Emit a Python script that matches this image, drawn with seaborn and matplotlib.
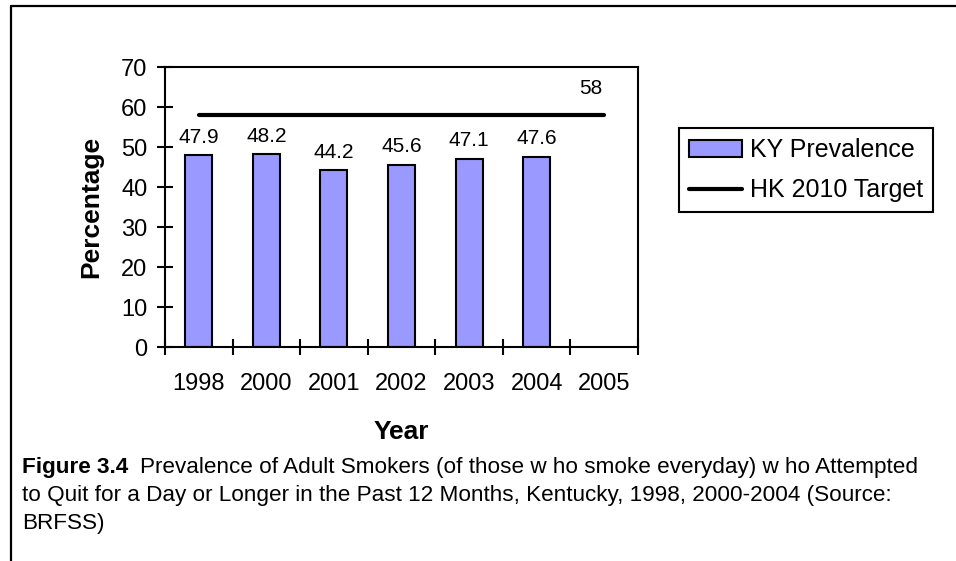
import numpy as np
import pandas as pd
import matplotlib.pyplot as plt
import seaborn as sns
from matplotlib.patches import Patch
from matplotlib.lines import Line2D

years = ['1998', '2000', '2001', '2002', '2003', '2004', '2005']
ky_years = ['1998', '2000', '2001', '2002', '2003', '2004']
ky_prev = [47.9, 48.2, 44.2, 45.6, 47.1, 47.6]
hk_target = [58, 58, 58, 58, 58, 58, 58]

caption_bold = 'Figure 3.4'
caption_1 = 'Prevalence of Adult Smokers (of those w ho smoke everyday) w ho Attempted'
caption_2 = 'to Quit for a Day or Longer in the Past 12 Months, Kentucky, 1998, 2000-2004 (Source:'
caption_3 = 'BRFSS)'

bar_color = '#9999FF'

sns.set_theme(style='white')
plt.rcParams['font.family'] = ['Liberation Sans', 'DejaVu Sans']
plt.rcParams['text.color'] = 'black'
plt.rcParams['axes.labelcolor'] = 'black'

W, H = 956, 561
fig = plt.figure(figsize=(W / 100, H / 100), dpi=100)
ax = fig.add_axes([165 / W, 1 - 347 / H, 473 / W, 280 / H])

df = pd.DataFrame({'Year': ky_years, 'Prevalence': ky_prev})
sns.barplot(data=df, x='Year', y='Prevalence', order=years, color=bar_color,
            edgecolor='black', linewidth=1.5, width=0.4, saturation=1, ax=ax)
ax.bar_label(ax.containers[0], labels=[str(v) for v in ky_prev], padding=6,
             fontsize=15, color='black')

sns.lineplot(x=np.arange(len(years)), y=hk_target, color='black', linewidth=3, ax=ax)
ax.annotate(str(hk_target[-1]), xy=(len(years) - 1, hk_target[-1]), xytext=(-10, 19),
            textcoords='offset points', ha='center', va='center', fontsize=15, color='black')

ax.set_xlim(-0.5, len(years) - 0.5)
ax.set_ylim(0, 70)
ax.set_yticks(range(0, 80, 10))
ax.set_xticks(range(len(years)))
ax.set_xticklabels(years)
ax.set_xticks(np.arange(-0.5, len(years), 1), minor=True)

for s in ax.spines.values():
    s.set_color('black')
    s.set_linewidth(1.5)

ax.tick_params(axis='y', left=True, direction='inout', length=11.5, width=1.5,
               pad=7, labelsize=17, colors='black')
ax.tick_params(axis='x', which='major', bottom=False, length=0, pad=19, labelsize=17,
               colors='black')
ax.tick_params(axis='x', which='minor', bottom=True, direction='inout', length=11.5,
               width=1.5, color='black')

ax.set_xlabel('Year', fontsize=19, fontweight='bold', va='center')
ax.xaxis.set_label_coords(0.5, (347 - 432) / 280)
ax.set_ylabel('Percentage', fontsize=19, fontweight='bold', va='center')
ax.yaxis.set_label_coords((91 - 165) / 473, 0.5)

handles = [Patch(facecolor=bar_color, edgecolor='black', linewidth=1.5, label='KY Prevalence'),
           Line2D([], [], color='black', lw=3, label='HK 2010 Target')]
leg = fig.legend(handles=handles, loc='upper left', bbox_to_anchor=(679 / W, 1 - 128 / H),
                 fontsize=18, frameon=True, fancybox=False, edgecolor='black', framealpha=1,
                 borderpad=0.4, handlelength=2.1, handleheight=0.65, handletextpad=0.35,
                 labelspacing=0.65, borderaxespad=0)
leg.get_frame().set_linewidth(1.5)

# outer frame of the exported chart
fig.add_artist(Line2D([11 / W, 1], [1 - 5.5 / H] * 2, transform=fig.transFigure, color='black', lw=1.6))
fig.add_artist(Line2D([11 / W] * 2, [0, 1 - 5.5 / H], transform=fig.transFigure, color='black', lw=1.6))

# caption
cap_size = 16.2
t = fig.text(22 / W, 1 - 467 / H, caption_bold, fontweight='bold', fontsize=cap_size, va='center')
fig.canvas.draw()
bb = t.get_window_extent()
fig.text((bb.x1 + 12) / W, 1 - 467 / H, caption_1, fontsize=cap_size, va='center')
fig.text(22 / W, 1 - 495 / H, caption_2, fontsize=cap_size, va='center')
fig.text(22 / W, 1 - 523 / H, caption_3, fontsize=cap_size, va='center')

fig.savefig('out.png', dpi=100)
